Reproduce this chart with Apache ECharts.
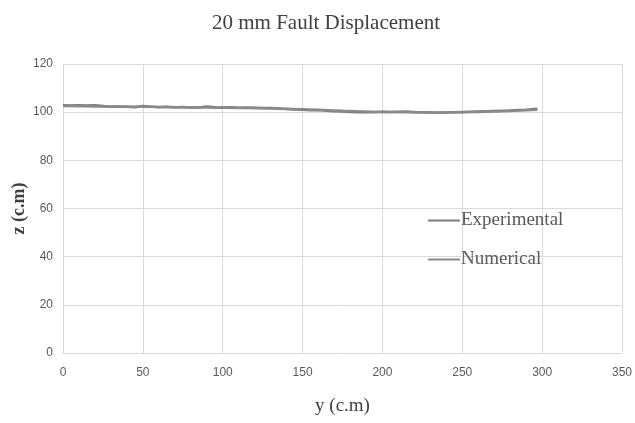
<!DOCTYPE html>
<html><head><meta charset="utf-8">
<script src="https://cdn.jsdelivr.net/npm/echarts@6/dist/echarts.min.js"></script>
<style>html,body{margin:0;padding:0;background:#fff}#c{width:635px;height:423px}</style>
</head><body><div id="c"></div>
<script>
var expY = [0,5,10,15,20,25,30,35,40,45,50,55,60,65,70,75,80,85,90,95,100,105,110,115,120,125,130,135,140,145,150,155,160,165,170,175,180,185,190,195,200,205,210,215,220,225,230,235,240,245,250,255,260,265,270,275,280,285,290,295,297];
var expZ = [102.9,102.8,102.9,102.8,102.9,102.6,102.3,102.4,102.2,102.0,102.6,102.3,102.0,102.2,101.9,102.1,101.9,101.9,102.4,102.0,101.9,102.0,101.8,101.9,101.8,101.7,101.7,101.5,101.3,101.1,101.0,100.8,100.9,100.6,100.4,100.3,100.1,100.0,100.1,100.0,100.2,100.1,100.2,100.3,100.1,100.0,99.9,99.8,99.9,100.0,100.1,100.2,100.3,100.4,100.5,100.6,100.7,100.9,101.0,101.3,101.4];
var numY = [0,25,50,75,100,125,150,175,200,225,250,275,297];
var numZ = [102.6,102.4,102.2,102.0,101.8,101.6,101.2,100.6,100.1,99.9,100.0,100.4,101.0];
var xTicks = {min:0, max:350, interval:50};
var yTicks = {min:0, max:120, interval:20};

function pairs(a,b){return a.map(function(v,i){return [v,b[i]];});}
var chart = echarts.init(document.getElementById('c'));
chart.setOption({
  animation:false,
  title:{text:'20 mm Fault Displacement',left:207,top:8,
    textStyle:{fontFamily:'Liberation Serif',fontSize:21,fontWeight:'normal',color:'#404040'}},
  grid:{left:63,right:13,top:64,bottom:70,outerBoundsMode:'none',containLabel:false},
  legend:{orient:'vertical',left:423,top:206,itemGap:20,itemWidth:32,itemHeight:2,icon:'rect',
    textStyle:{fontFamily:'Liberation Serif',fontSize:19,color:'#595959',padding:[0,0,0,-4]},
    data:['Experimental','Numerical']},
  xAxis:{type:'value',min:xTicks.min,max:xTicks.max,interval:xTicks.interval,
    name:'y (c.m)',nameLocation:'middle',nameGap:44,
    nameTextStyle:{fontFamily:'Liberation Serif',fontSize:19,color:'#404040'},
    axisLine:{show:true,lineStyle:{color:'#d9d9d9'}},axisTick:{show:false},
    axisLabel:{fontFamily:'Liberation Sans',fontSize:12,color:'#595959',margin:14},
    splitLine:{show:true,lineStyle:{color:'#d9d9d9'}}},
  yAxis:{type:'value',min:yTicks.min,max:yTicks.max,interval:yTicks.interval,
    name:'z (c.m)',nameLocation:'middle',nameGap:35,nameRotate:90,nameMoveOverlap:false,
    nameTextStyle:{fontFamily:'Liberation Serif',fontSize:18,fontWeight:'bold',color:'#404040'},
    axisLine:{show:false},axisTick:{show:false},
    axisLabel:{fontFamily:'Liberation Sans',fontSize:12,color:'#595959',margin:10},
    splitLine:{show:true,lineStyle:{color:'#d9d9d9'}}},
  series:[
    {name:'Experimental',type:'line',showSymbol:false,data:pairs(expY,expZ),
      lineStyle:{color:'#7a7a7a',width:2.5},itemStyle:{color:'#7a7a7a'}},
    {name:'Numerical',type:'line',showSymbol:false,smooth:true,data:pairs(numY,numZ),
      lineStyle:{color:'#8a8a8a',width:2.5},itemStyle:{color:'#8a8a8a'}}
  ]
});
</script></body></html>
